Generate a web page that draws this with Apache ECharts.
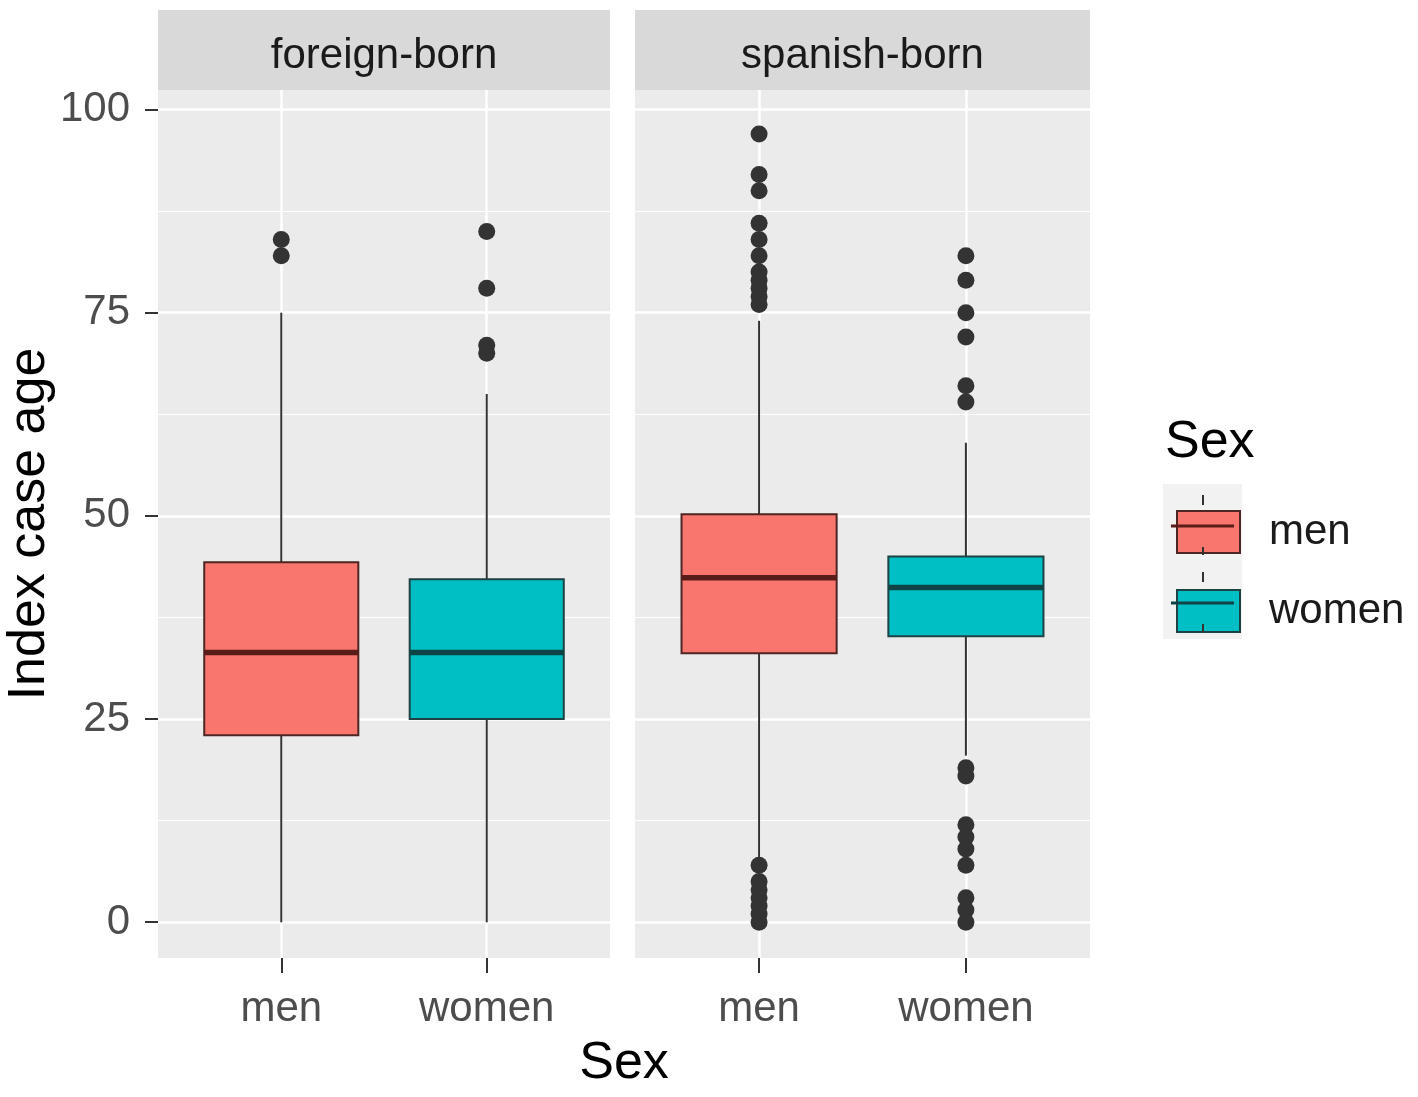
<!DOCTYPE html>
<html>
<head>
<meta charset="utf-8">
<title>Index case age by sex</title>
<script src="https://cdn.jsdelivr.net/npm/echarts@6/dist/echarts.min.js"></script>
<style>
  html, body { margin: 0; padding: 0; background: #fff; }
  #chart { width: 1418px; height: 1097px; }
</style>
</head>
<body>
<div id="chart"></div>
<script>
// facets and groups
var panels = ['foreign-born', 'spanish-born'];
var sexes = ['men', 'women'];
var yTicks = [0, 25, 50, 75, 100];
var yMinor = [12.5, 37.5, 62.5, 87.5];

// box stats: [min, Q1, median, Q3, max]
var foreignMen = [0, 23, 33.2, 44.3, 75];
var foreignWomen = [0, 25, 33.2, 42.2, 65];
var spanishMen = [8, 33.1, 42.4, 50.2, 74];
var spanishWomen = [20.5, 35.2, 41.2, 45, 59];

// outliers
var foreignMenOut = [84, 82];
var foreignWomenOut = [85, 78, 71, 70];
var spanishMenOut = [97, 92, 90, 86, 84, 82, 80, 79, 78, 77, 76, 7, 5, 4, 3, 2, 1, 0];
var spanishWomenOut = [82, 79, 75, 72, 66, 64, 19, 18, 12, 10.5, 9, 7, 3, 1.5, 0];

var FONT = "'Liberation Sans', Arial, sans-serif";
var FILL = { men: '#F8766D', women: '#00BFC4' };
var EDGE = { men: '#4d2624', women: '#1d4244' };
var MED = { men: '#5a1c18', women: '#0e4446' };
var BOX_HALF = 0.375;

var GRIDS = [
  { left: 158, top: 90, width: 452, height: 868 },
  { left: 635, top: 90, width: 455, height: 868 }
];

function xAxisFor(gridIndex) {
  return {
    type: 'value', gridIndex: gridIndex, min: 0.4, max: 2.6,
    axisLine: { show: false, onZero: false },
    axisTick: { show: true, length: 15, customValues: [1, 2], lineStyle: { color: '#333', width: 2 } },
    axisLabel: {
      customValues: [1, 2], margin: 30, fontSize: 42, color: '#4D4D4D', fontFamily: FONT,
      formatter: function (v) { return sexes[Math.round(v) - 1] || ''; }
    },
    splitLine: { show: true, lineStyle: { color: '#fff', width: 2.5 } }
  };
}

function yAxisFor(gridIndex, minor, withLabels) {
  var ax = {
    type: 'value', gridIndex: gridIndex, min: -4.4, max: 102.4,
    position: minor ? 'right' : 'left',
    axisLine: { show: false, onZero: false },
    axisTick: {
      show: !minor && withLabels, length: 13, inside: false,
      customValues: minor ? yMinor : yTicks,
      lineStyle: { color: '#333', width: 2 }
    },
    axisLabel: {
      show: !minor && withLabels, customValues: yTicks, margin: 28,
      fontSize: 42, color: '#4D4D4D', fontFamily: FONT
    },
    splitLine: { show: true, lineStyle: { color: '#fff', width: minor ? 1.2 : 2.5 } }
  };
  if (!minor && withLabels) {
    ax.name = 'Index case age';
    ax.nameLocation = 'middle';
    ax.nameGap = 98;
    ax.nameTextStyle = { fontSize: 52, color: '#000', fontFamily: FONT };
  }
  return ax;
}

// box, whiskers (no caps, as in ggplot) and a heavy median line
function renderBox(sex) {
  return function (params, api) {
    var x = api.value(0);
    var mn = api.value(1), q1 = api.value(2), md = api.value(3), q3 = api.value(4), mx = api.value(5);
    var c = api.coord([x, md]);
    var tl = api.coord([x - BOX_HALF, q3]);
    var br = api.coord([x + BOX_HALF, q1]);
    var pMin = api.coord([x, mn]);
    var pMax = api.coord([x, mx]);
    var whisker = { stroke: '#333', lineWidth: 2 };
    return {
      type: 'group',
      children: [
        { type: 'line', shape: { x1: c[0], y1: tl[1], x2: c[0], y2: pMax[1] }, style: whisker },
        { type: 'line', shape: { x1: c[0], y1: br[1], x2: c[0], y2: pMin[1] }, style: whisker },
        {
          type: 'rect',
          shape: { x: tl[0], y: tl[1], width: br[0] - tl[0], height: br[1] - tl[1] },
          style: { fill: FILL[sex], stroke: EDGE[sex], lineWidth: 2 }
        },
        { type: 'line', shape: { x1: tl[0], y1: c[1], x2: br[0], y2: c[1] }, style: { stroke: MED[sex], lineWidth: 5.5 } }
      ]
    };
  };
}

function boxSeries(sex, gi, x, stats) {
  return {
    name: sex, type: 'custom', xAxisIndex: gi, yAxisIndex: gi * 2,
    itemStyle: { color: FILL[sex] },
    encode: { x: 0, y: [1, 2, 3, 4, 5] },
    data: [[x].concat(stats)],
    renderItem: renderBox(sex),
    z: 2
  };
}

function outlierSeries(sex, gi, x, vals) {
  return {
    name: sex, type: 'scatter', xAxisIndex: gi, yAxisIndex: gi * 2,
    symbolSize: 17,
    itemStyle: { color: '#333333', opacity: 1 },
    data: vals.map(function (v) { return [x, v]; }),
    z: 4
  };
}

var series = [
  boxSeries('men', 0, 1, foreignMen),
  boxSeries('women', 0, 2, foreignWomen),
  boxSeries('men', 1, 1, spanishMen),
  boxSeries('women', 1, 2, spanishWomen),
  outlierSeries('men', 0, 1, foreignMenOut),
  outlierSeries('women', 0, 2, foreignWomenOut),
  outlierSeries('men', 1, 1, spanishMenOut),
  outlierSeries('women', 1, 2, spanishWomenOut)
];

var graphics = [];
// facet strips
GRIDS.forEach(function (g, i) {
  graphics.push({
    type: 'rect', z: 0,
    shape: { x: g.left, y: 10, width: g.width, height: 80 },
    style: { fill: '#D9D9D9' }
  });
  graphics.push({
    type: 'text', z: 1, x: g.left + g.width / 2, y: 56,
    style: { text: panels[i], fill: '#1A1A1A', font: '42px ' + FONT, textAlign: 'center', textVerticalAlign: 'middle' }
  });
});
// x axis title
graphics.push({
  type: 'text', x: 624, y: 1064,
  style: { text: 'Sex', fill: '#000', font: '52px ' + FONT, textAlign: 'center', textVerticalAlign: 'middle' }
});
// legend title and key decorations
graphics.push({
  type: 'text', x: 1165, y: 443,
  style: { text: 'Sex', fill: '#000', font: '52px ' + FONT, textAlign: 'left', textVerticalAlign: 'middle' }
});
graphics.push({
  type: 'rect', z: 0, shape: { x: 1163, y: 484, width: 79, height: 155 }, style: { fill: '#F2F2F2' }
});
[{ sex: 'men', top: 505 }, { sex: 'women', top: 582 }].forEach(function (k) {
  var cx = 1203, bot = k.top + 42;
  graphics.push({ type: 'line', z: 100, shape: { x1: cx, y1: k.top - 10, x2: cx, y2: k.top }, style: { stroke: '#333', lineWidth: 2 } });
  graphics.push({ type: 'line', z: 100, shape: { x1: cx, y1: bot, x2: cx, y2: bot + 8 }, style: { stroke: '#333', lineWidth: 2 } });
  graphics.push({ type: 'line', z: 100, shape: { x1: 1171, y1: k.top + 21, x2: 1234, y2: k.top + 21 }, style: { stroke: MED[k.sex], lineWidth: 3 } });
});

var chart = echarts.init(document.getElementById('chart'), null, { renderer: 'canvas' });
chart.setOption({
  animation: false,
  backgroundColor: '#fff',
  textStyle: { fontFamily: FONT },
  grid: GRIDS.map(function (g) {
    return { left: g.left, top: g.top, width: g.width, height: g.height, show: true, backgroundColor: '#EBEBEB', borderWidth: 0, containLabel: false };
  }),
  xAxis: [xAxisFor(0), xAxisFor(1)],
  yAxis: [yAxisFor(0, false, true), yAxisFor(0, true, false), yAxisFor(1, false, false), yAxisFor(1, true, false)],
  legend: {
    left: 1171, top: 505, orient: 'vertical', itemWidth: 63, itemHeight: 42, itemGap: 35,
    icon: 'rect',
    textStyle: { fontSize: 42, color: '#1A1A1A', fontFamily: FONT, lineHeight: 42, padding: [0, 0, 0, 24] },
    data: [
      { name: 'men', itemStyle: { color: FILL.men, borderColor: EDGE.men, borderWidth: 2 } },
      { name: 'women', itemStyle: { color: FILL.women, borderColor: EDGE.women, borderWidth: 2 } }
    ]
  },
  graphic: graphics,
  series: series
});
</script>
</body>
</html>
